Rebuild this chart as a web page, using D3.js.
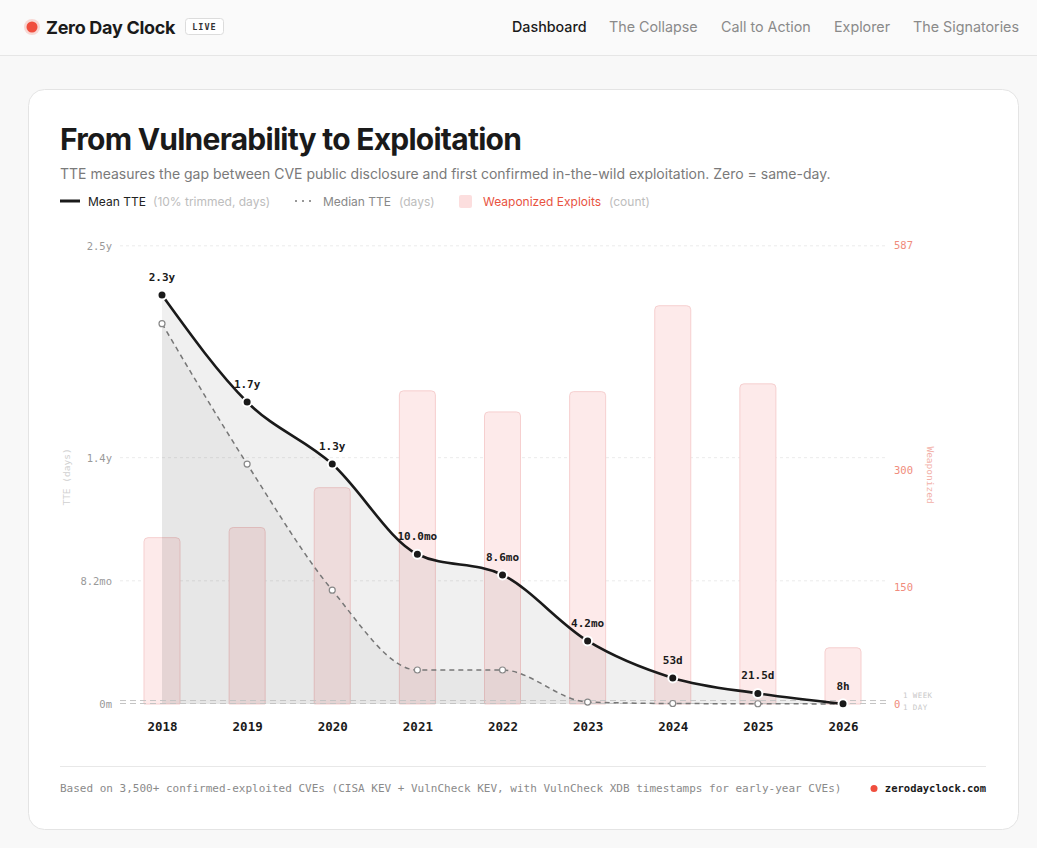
<!DOCTYPE html>
<html>
<head>
<meta charset="utf-8">
<script src="https://cdn.jsdelivr.net/npm/d3@7/dist/d3.min.js"></script>
<style>
  html, body { margin: 0; padding: 0; background: #f8f8f8; }
  svg { display: block; }
  .mono { font-family: "DejaVu Sans Mono", "Liberation Mono", monospace; }
  .sans { font-family: Inter, "Noto Sans", sans-serif; }
</style>
</head>
<body>
<svg id="chart" width="1037" height="848"></svg>
<script>
const years = [2018, 2019, 2020, 2021, 2022, 2023, 2024, 2025, 2026];
// mean TTE (10% trimmed), days
const meanTTE = [830, 613, 487, 304, 262, 128, 53, 21.5, 0.33];
// median TTE, days
const medianTTE = [772, 487, 231, 69, 69, 4, 1, 0.5, 0.1];
// weaponized exploits count
const weaponized = [213, 226, 277, 401, 374, 400, 510, 410, 72];
const leftTicks = [0, 250, 500, 930];
const rightTicks = [0, 150, 300, 587];
const navItems = ['Dashboard', 'The Collapse', 'Call to Action', 'Explorer', 'The Signatories'];
const refLines = [{ label: '1 WEEK', days: 7 }, { label: '1 DAY', days: 1 }];

const svg = d3.select('#chart');

// ---- header
svg.append('rect').attr('x', 0).attr('y', 0).attr('width', 1037).attr('height', 55).attr('fill', '#fafafa');
svg.append('line').attr('x1', 0).attr('x2', 1037).attr('y1', 55.5).attr('y2', 55.5).attr('stroke', '#e6e6e6');
svg.append('circle').attr('cx', 32).attr('cy', 27).attr('r', 8).attr('fill', '#f04e3e').attr('opacity', 0.2);
svg.append('circle').attr('cx', 32).attr('cy', 27).attr('r', 5.5).attr('fill', '#f04e3e');
svg.append('text').attr('class', 'sans').attr('x', 46).attr('y', 34)
  .attr('font-size', 18).attr('font-weight', 700).attr('fill', '#1a1a1a').attr('letter-spacing', -0.3).text('Zero Day Clock');
svg.append('rect').attr('x', 185.5).attr('y', 18.5).attr('width', 38).attr('height', 16).attr('rx', 3)
  .attr('fill', '#fff').attr('stroke', '#dcdcdc');
svg.append('text').attr('class', 'mono').attr('x', 204.5).attr('y', 30).attr('text-anchor', 'middle')
  .attr('font-size', 8.5).attr('font-weight', 700).attr('fill', '#333').attr('letter-spacing', 1).text('LIVE');

const navX = [512, 609, 721, 834, 913];
navItems.forEach((n, i) => {
  svg.append('text').attr('class', 'sans').attr('x', navX[i]).attr('y', 32)
    .attr('font-size', 14.3).attr('fill', i === 0 ? '#1a1a1a' : '#8a8a8a').attr('font-weight', i === 0 ? 500 : 400)
    .text(n);
});

// ---- card
svg.append('rect').attr('x', 28.5).attr('y', 89.5).attr('width', 990).attr('height', 740).attr('rx', 16)
  .attr('fill', '#fff').attr('stroke', '#e4e4e4');

svg.append('text').attr('class', 'sans').attr('x', 60).attr('y', 150)
  .attr('font-size', 30).attr('font-weight', 700).attr('fill', '#1a1a1a').attr('letter-spacing', -0.75)
  .text('From Vulnerability to Exploitation');
svg.append('text').attr('class', 'sans').attr('x', 60).attr('y', 179)
  .attr('font-size', 14).attr('fill', '#7a7a7a')
  .text('TTE measures the gap between CVE public disclosure and first confirmed in-the-wild exploitation. Zero = same-day.');

// ---- legend
const lg = svg.append('g').attr('class', 'sans').attr('font-size', 12);
lg.append('line').attr('x1', 60).attr('x2', 80).attr('y1', 201).attr('y2', 201).attr('stroke', '#1a1a1a').attr('stroke-width', 3);
lg.append('text').attr('x', 88).attr('y', 205.5).attr('fill', '#222').text('Mean TTE');
lg.append('text').attr('x', 153).attr('y', 205.5).attr('fill', '#bdbdbd').text('(10% trimmed, days)');
lg.append('line').attr('x1', 295).attr('x2', 316).attr('y1', 201).attr('y2', 201).attr('stroke', '#777')
  .attr('stroke-width', 1.5).attr('stroke-dasharray', '2,5');
lg.append('text').attr('x', 323).attr('y', 205.5).attr('fill', '#888').text('Median TTE');
lg.append('text').attr('x', 399).attr('y', 205.5).attr('fill', '#bdbdbd').text('(days)');
lg.append('rect').attr('x', 459).attr('y', 195).attr('width', 13).attr('height', 13).attr('rx', 2).attr('fill', '#fcdede');
lg.append('text').attr('x', 483).attr('y', 205.5).attr('fill', '#e8533f').text('Weaponized Exploits');
lg.append('text').attr('x', 609).attr('y', 205.5).attr('fill', '#bdbdbd').text('(count)');

// ---- scales
const x = d3.scalePoint().domain(years).range([162, 843]);
const y = d3.scaleLinear().domain([0, d3.max(meanTTE) * 1.12]).range([704, 246]);
const yR = d3.scaleLinear().domain([0, d3.max(weaponized) * 1.15]).range([704, 246]);

function fmtAxis(d) {
  if (d === 0) return '0m';
  if (d >= 365) return (d / 365).toFixed(1) + 'y';
  return (d / 30.44).toFixed(1) + 'mo';
}
function fmtPoint(d) {
  if (d < 1) return Math.round(d * 24) + 'h';
  if (d < 30) return d.toFixed(1) + 'd';
  if (d < 90) return Math.round(d) + 'd';
  if (d < 365) return (d / 30.44).toFixed(1) + 'mo';
  return (d / 365).toFixed(1) + 'y';
}

// ---- grid
const grid = svg.append('g');
leftTicks.slice(1).forEach(t => {
  grid.append('line').attr('x1', 120).attr('x2', 885).attr('y1', y(t)).attr('y2', y(t))
    .attr('stroke', '#ebebeb').attr('stroke-dasharray', '3,3');
});

// ---- bars (right axis)
const bw = 36, r = 4;
svg.append('g').selectAll('path').data(weaponized).join('path')
  .attr('d', (d, i) => {
    const x0 = x(years[i]) - bw / 2, x1 = x0 + bw, yt = yR(d), yb = yR(0);
    return `M${x0},${yb}V${yt + r}Q${x0},${yt} ${x0 + r},${yt}H${x1 - r}Q${x1},${yt} ${x1},${yt + r}V${yb}Z`;
  })
  .attr('fill', '#fdeaea').attr('stroke', '#f6cfcf').attr('stroke-width', 1);

// ---- areas
const meanPts = years.map((yr, i) => [yr, meanTTE[i]]);
const medPts = years.map((yr, i) => [yr, medianTTE[i]]);
const area = d3.area().x(d => x(d[0])).y0(y(0)).y1(d => y(d[1])).curve(d3.curveMonotoneX);
const line = d3.line().x(d => x(d[0])).y(d => y(d[1])).curve(d3.curveMonotoneX);

svg.append('path').datum(meanPts).attr('d', area).attr('fill', '#000').attr('fill-opacity', 0.06);
svg.append('path').datum(medPts).attr('d', area).attr('fill', '#000').attr('fill-opacity', 0.035);

// reference lines
refLines.forEach((rl, i) => {
  svg.append('line').attr('x1', 120).attr('x2', 890).attr('y1', y(rl.days)).attr('y2', y(rl.days))
    .attr('stroke', '#c4c4c4').attr('stroke-dasharray', '6,4').attr('stroke-width', 1);
  svg.append('text').attr('class', 'mono').attr('x', 903).attr('y', y(rl.days) + (i === 0 ? -2.5 : 6.5))
    .attr('font-size', 7.5).attr('fill', '#c8c8c8').attr('letter-spacing', 0.4).text(rl.label);
});

// median line
svg.append('path').datum(medPts).attr('d', line).attr('fill', 'none')
  .attr('stroke', '#777').attr('stroke-width', 1.5).attr('stroke-dasharray', '5,4');
svg.append('g').selectAll('circle').data(medPts).join('circle')
  .attr('cx', d => x(d[0])).attr('cy', d => y(d[1])).attr('r', 3)
  .attr('fill', '#fff').attr('stroke', '#888').attr('stroke-width', 1.2);

// mean line
svg.append('path').datum(meanPts).attr('d', line).attr('fill', 'none')
  .attr('stroke', '#1a1a1a').attr('stroke-width', 2.6);
svg.append('g').selectAll('circle').data(meanPts).join('circle')
  .attr('cx', d => x(d[0])).attr('cy', d => y(d[1])).attr('r', 4.5)
  .attr('fill', '#1a1a1a').attr('stroke', '#fff').attr('stroke-width', 2);
svg.append('g').selectAll('text').data(meanPts).join('text')
  .attr('class', 'mono').attr('x', d => x(d[0])).attr('y', d => y(d[1]) - 14)
  .attr('text-anchor', 'middle').attr('font-size', 11).attr('font-weight', 700).attr('fill', '#1a1a1a')
  .text(d => fmtPoint(d[1]));

// ---- axes
const yAxis = svg.append('g').attr('transform', 'translate(112,0)')
  .call(d3.axisLeft(y).tickValues(leftTicks).tickFormat(fmtAxis).tickSize(0).tickPadding(0));
yAxis.select('.domain').remove();
yAxis.selectAll('text').attr('class', 'mono').attr('font-size', 10.5).attr('fill', '#999');

const rAxis = svg.append('g').attr('transform', 'translate(894,0)')
  .call(d3.axisRight(yR).tickValues(rightTicks).tickFormat(d3.format('d')).tickSize(0).tickPadding(0));
rAxis.select('.domain').remove();
rAxis.selectAll('text').attr('class', 'mono').attr('font-size', 10.5).attr('fill', '#f08c7c');

const xAxis = svg.append('g').attr('transform', 'translate(0,722)')
  .call(d3.axisBottom(x).tickFormat(d3.format('d')).tickSize(0).tickPadding(0));
xAxis.select('.domain').remove();
xAxis.selectAll('text').attr('class', 'mono').attr('font-size', 12.5).attr('font-weight', 700).attr('fill', '#1a1a1a');

svg.append('text').attr('class', 'mono').attr('transform', 'translate(70,477) rotate(-90)')
  .attr('text-anchor', 'middle').attr('font-size', 9.5).attr('fill', '#d0d0d0').text('TTE (days)');
svg.append('text').attr('class', 'mono').attr('transform', 'translate(927,475) rotate(90)')
  .attr('text-anchor', 'middle').attr('font-size', 9.5).attr('fill', '#f2b0a8').text('Weaponized');

// ---- footer
svg.append('line').attr('x1', 60).attr('x2', 986).attr('y1', 766.5).attr('y2', 766.5).attr('stroke', '#e8e8e8');
svg.append('text').attr('class', 'mono').attr('x', 60).attr('y', 792)
  .attr('font-size', 11).attr('fill', '#8a8a8a')
  .text('Based on 3,500+ confirmed-exploited CVEs (CISA KEV + VulnCheck KEV, with VulnCheck XDB timestamps for early-year CVEs)');
svg.append('circle').attr('cx', 874).attr('cy', 788.5).attr('r', 3.5).attr('fill', '#f04e3e');
svg.append('text').attr('class', 'mono').attr('x', 986).attr('y', 792).attr('text-anchor', 'end')
  .attr('font-size', 10.5).attr('font-weight', 700).attr('fill', '#1a1a1a').text('zerodayclock.com');
</script>
</body>
</html>
